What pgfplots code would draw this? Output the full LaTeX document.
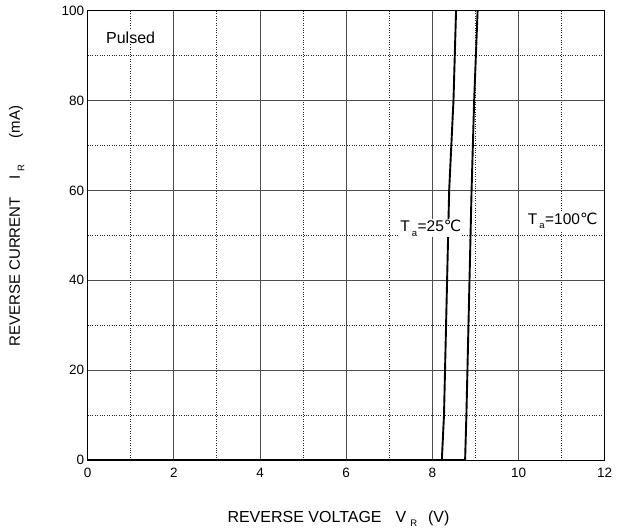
\documentclass[border=0pt]{standalone}
\usepackage{pgfplots}
\pgfplotsset{compat=1.18}
\usepackage{fontspec}
\setmainfont{Liberation Sans}
\newfontfamily\dejavu{DejaVu Sans}
\newcommand{\degC}{{\dejavu ℃}}
\newcommand{\sub}[1]{\raisebox{-4.5pt}{\fontsize{9.5}{10}\selectfont #1}}

\begin{document}
\begin{tikzpicture}[x=1pt,y=1pt]
    \begin{axis}[
            name = main,
            scale only axis,
            width = 517pt, height = 449.3pt,
            xmin = 0, xmax = 12,
            ymin = 0, ymax = 100,
            xtick distance = 2,
            ytick distance = 20,
            minor tick num = 1,
            grid = both,
            major grid style = {black!70, line width=0.9pt},
            minor grid style = {black!85, dotted, line width=0.9pt},
            major tick length = 0pt,
            minor tick length = 0pt,
            axis line style = {black, line width=0.9pt},
            /pgf/number format/assume math mode=true,
            ticklabel style = {font=\fontsize{13.5}{15}\selectfont},
            xticklabel style = {yshift=-5pt},
            yticklabel style = {xshift=0pt},
            xlabel = {REVERSE VOLTAGE\hspace{14pt}V\hspace{4pt}\sub{R}\hspace{11pt}(V)},
            ylabel = {REVERSE CURRENT\hspace{18pt}I\hspace{4pt}\sub{R}\hspace{26pt}(mA)},
            xlabel style = {font=\fontsize{16}{18}\selectfont, at={(axis description cs:0.2636,-0.138)}, anchor=base west},
            ylabel style = {font=\fontsize{15}{17}\selectfont, at={(axis description cs:-0.131,0.245)}, anchor=base west},
            clip = true,
        ]
        %% Ta = 25 C
        \addplot[black, line width=1.9pt, line join=round] coordinates {
                (0,0) (8.22,0) (8.27,10) (8.39,60) (8.49,80) (8.55,100)
            };
        %% Ta = 100 C
        \addplot[black, line width=1.9pt, line join=round] coordinates {
                (0,0) (8.76,0) (8.79,10) (8.91,60) (8.97,80) (9.05,100)
            };
        \node[anchor=base west, fill=white, inner sep=1pt, font=\fontsize{16}{18}\selectfont] at (axis cs:0.40,92.8) {Pulsed};
        \node[anchor=base west, fill=white, inner sep=1pt, font=\fontsize{15.5}{17}\selectfont] at (axis cs:7.23,50.8) {T\hspace{2pt}\sub{a}\hspace{0.5pt}=25\degC};
        \node[anchor=base west, fill=white, inner sep=1pt, font=\fontsize{15.5}{17}\selectfont] at (axis cs:10.19,52.5) {T\hspace{2pt}\sub{a}\hspace{0.5pt}=100\degC};
    \end{axis}
    \path (main.south west) ++(-87.7pt,-71pt) rectangle ++(622pt,531pt);
\end{tikzpicture}
\end{document}
